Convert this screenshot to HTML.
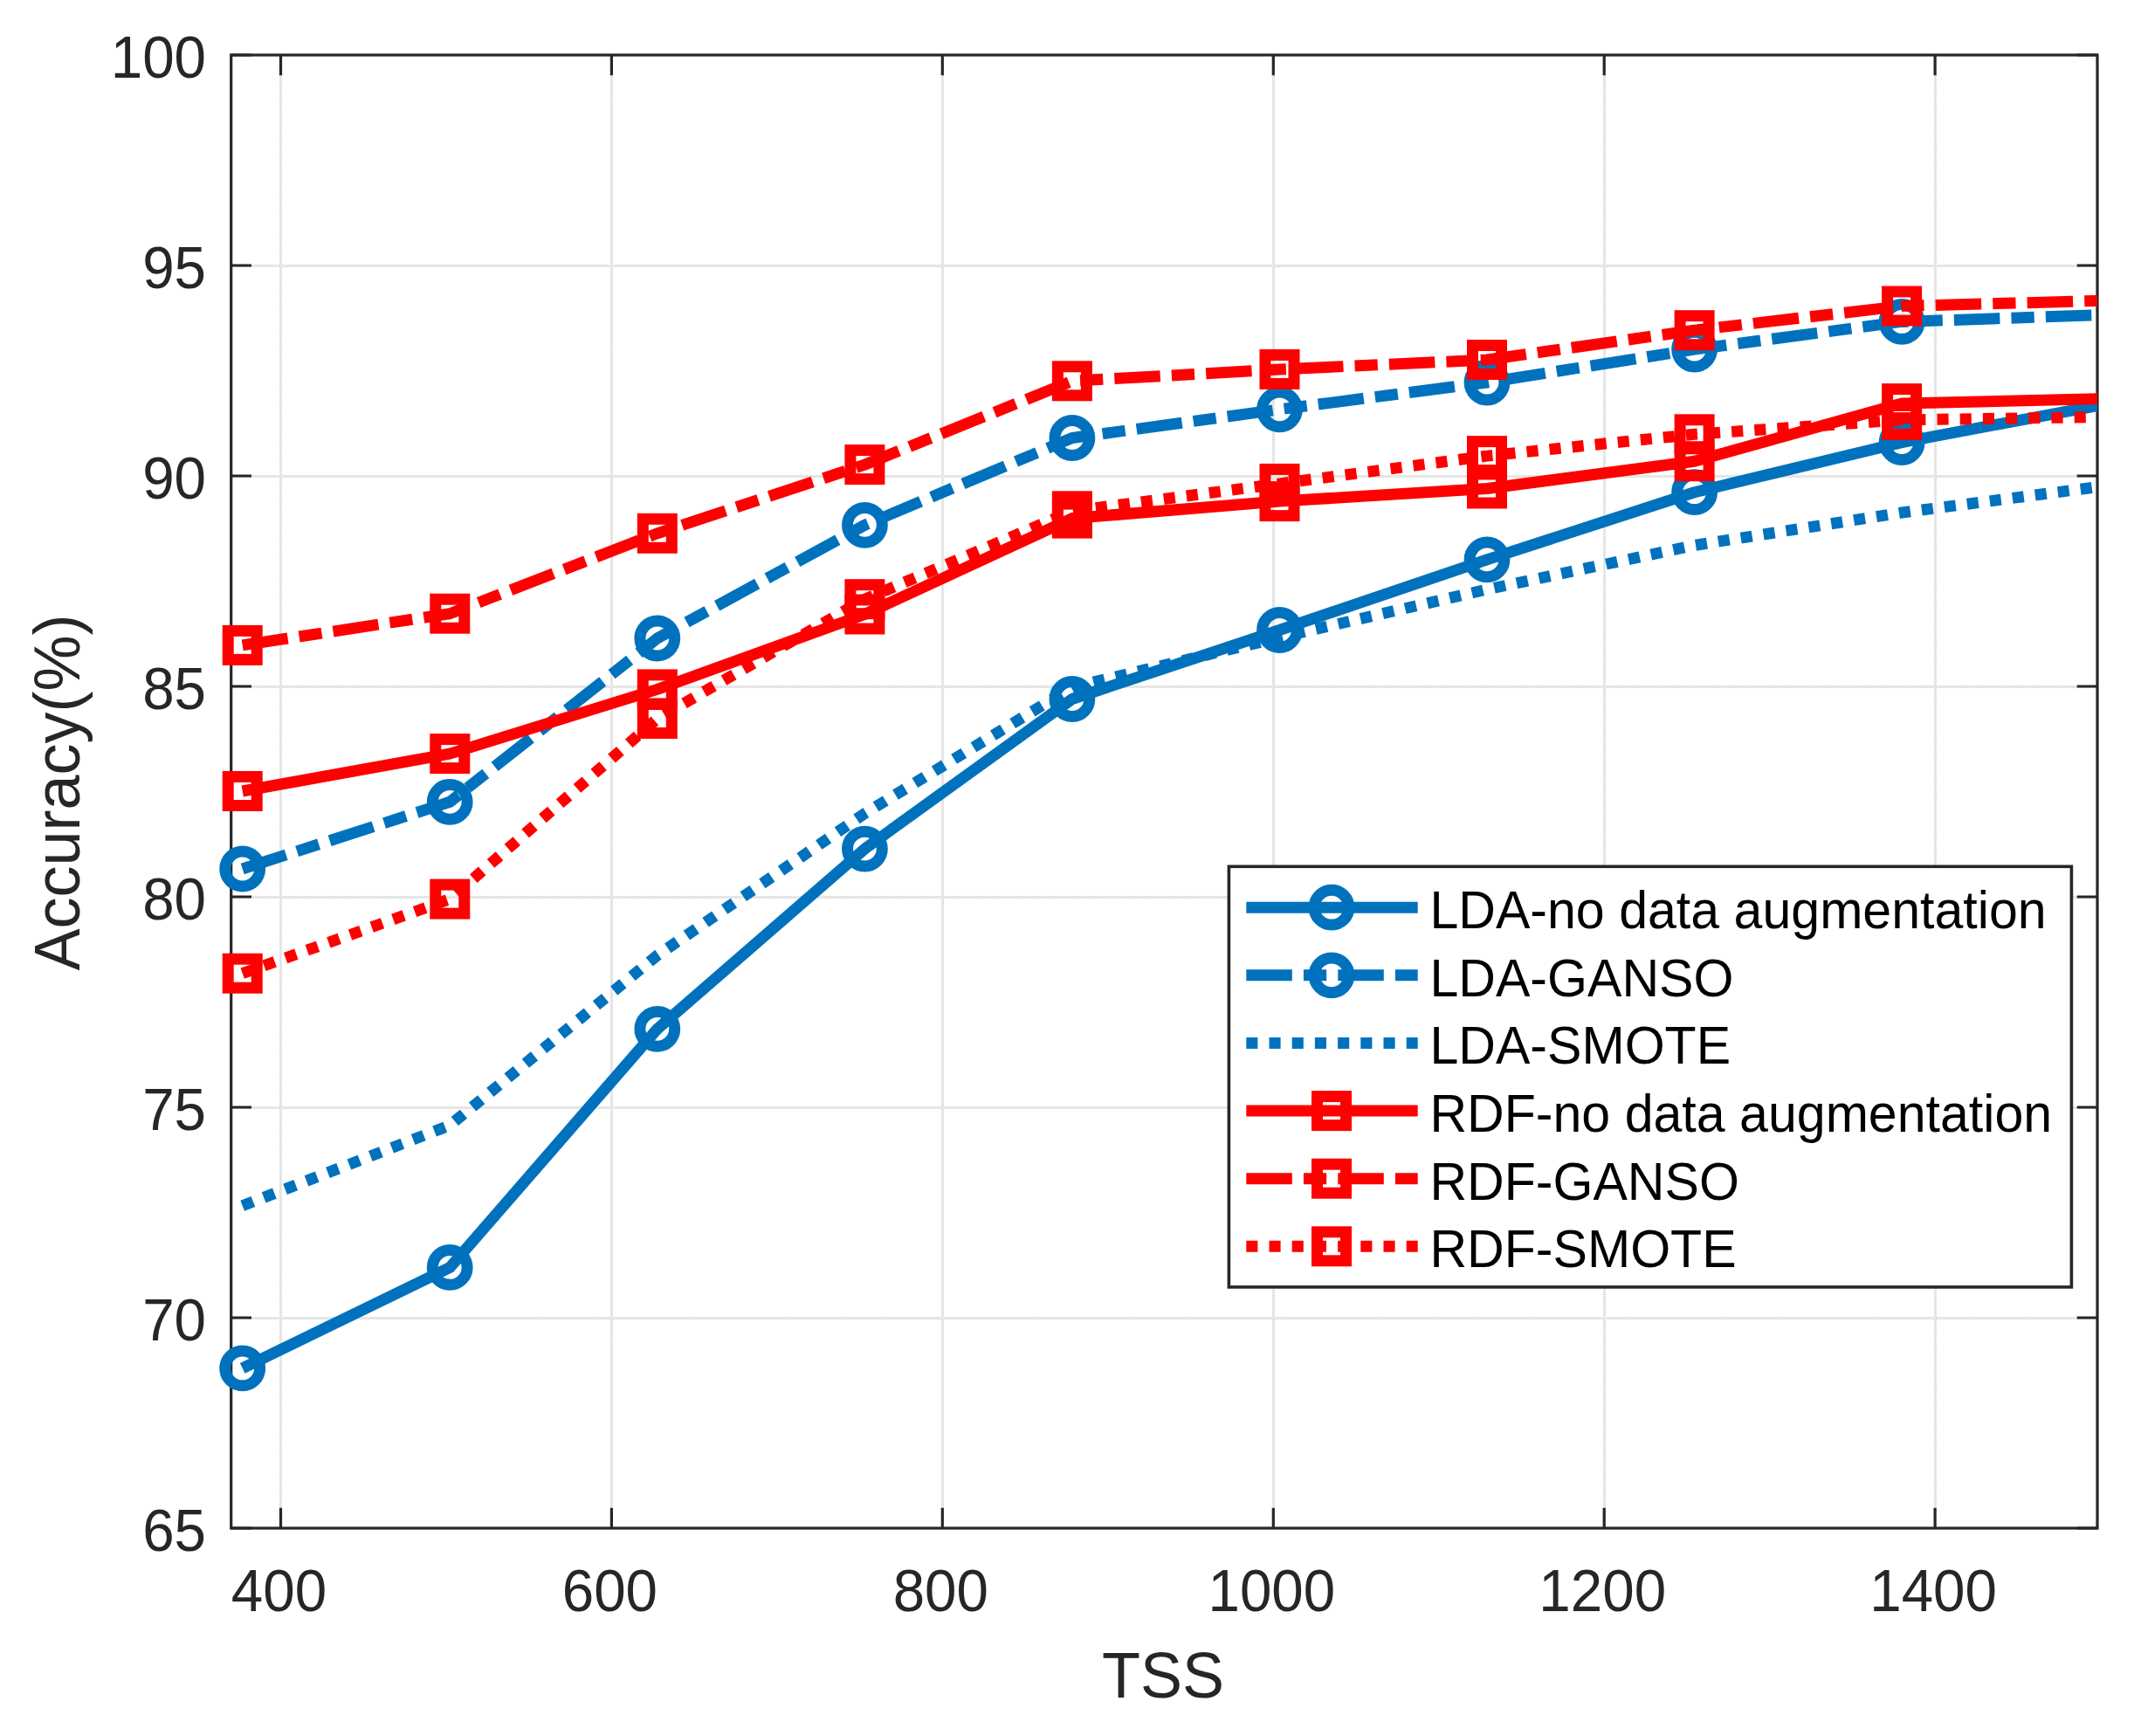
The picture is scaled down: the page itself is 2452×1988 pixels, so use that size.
<!DOCTYPE html>
<html lang="en"><head><meta charset="utf-8"><title>Accuracy vs TSS</title>
<style>html,body{margin:0;padding:0;background:#fff}body{width:2452px;height:1988px;overflow:hidden}svg{display:block}text{font-family:"Liberation Sans",Arial,sans-serif}</style></head><body>
<svg width="2452" height="1988" viewBox="0 0 2452 1988">
<rect width="2452" height="1988" fill="#fff"/>
<defs><clipPath id="ax"><rect x="264.7" y="63.0" width="2137.3" height="1687.0"/></clipPath></defs>
<defs><pattern id="gv" width="2" height="2" patternUnits="userSpaceOnUse"><rect x="0" y="0" width="1" height="1" fill="#cccccc"/><rect x="1" y="1" width="1" height="1" fill="#cccccc"/></pattern><pattern id="gh" width="2" height="2" patternUnits="userSpaceOnUse"><rect x="0" y="0" width="1" height="1" fill="#cecece"/><rect x="1" y="1" width="1" height="1" fill="#cecece"/></pattern></defs>
<rect x="320" y="64" width="3" height="1685" fill="url(#gv)"/><rect x="699" y="64" width="3" height="1685" fill="url(#gv)"/><rect x="1078" y="64" width="3" height="1685" fill="url(#gv)"/><rect x="1457" y="64" width="3" height="1685" fill="url(#gv)"/><rect x="1836" y="64" width="3" height="1685" fill="url(#gv)"/><rect x="2215" y="64" width="3" height="1685" fill="url(#gv)"/><rect x="266" y="1508" width="2135" height="3" fill="url(#gh)"/><rect x="266" y="1267" width="2135" height="3" fill="url(#gh)"/><rect x="266" y="1026" width="2135" height="3" fill="url(#gh)"/><rect x="266" y="785" width="2135" height="3" fill="url(#gh)"/><rect x="266" y="544" width="2135" height="3" fill="url(#gh)"/><rect x="266" y="303" width="2135" height="3" fill="url(#gh)"/>
<path d="M321.5 1750.0v-23.3M321.5 63.0v23.3M700.4 1750.0v-23.3M700.4 63.0v23.3M1079.3 1750.0v-23.3M1079.3 63.0v23.3M1458.3 1750.0v-23.3M1458.3 63.0v23.3M1837.2 1750.0v-23.3M1837.2 63.0v23.3M2216.1 1750.0v-23.3M2216.1 63.0v23.3M264.7 1750.0h23.3M2402.0 1750.0h-23.3M264.7 1509.0h23.3M2402.0 1509.0h-23.3M264.7 1268.0h23.3M2402.0 1268.0h-23.3M264.7 1027.0h23.3M2402.0 1027.0h-23.3M264.7 786.0h23.3M2402.0 786.0h-23.3M264.7 545.0h23.3M2402.0 545.0h-23.3M264.7 304.0h23.3M2402.0 304.0h-23.3M264.7 63.0h23.3M2402.0 63.0h-23.3" stroke="#262626" stroke-width="3.2" fill="none"/>
<rect x="264.7" y="63.0" width="2137.3" height="1687.0" fill="none" stroke="#262626" stroke-width="3.2"/>
<text transform="translate(236.0 1775.5) scale(1 1.040)" font-size="65.5" text-anchor="end" fill="#262626">65</text>
<text transform="translate(236.0 1534.5) scale(1 1.040)" font-size="65.5" text-anchor="end" fill="#262626">70</text>
<text transform="translate(236.0 1293.5) scale(1 1.040)" font-size="65.5" text-anchor="end" fill="#262626">75</text>
<text transform="translate(236.0 1052.5) scale(1 1.040)" font-size="65.5" text-anchor="end" fill="#262626">80</text>
<text transform="translate(236.0 811.5) scale(1 1.040)" font-size="65.5" text-anchor="end" fill="#262626">85</text>
<text transform="translate(236.0 570.5) scale(1 1.040)" font-size="65.5" text-anchor="end" fill="#262626">90</text>
<text transform="translate(236.0 329.5) scale(1 1.040)" font-size="65.5" text-anchor="end" fill="#262626">95</text>
<text transform="translate(236.0 88.5) scale(1 1.040)" font-size="65.5" text-anchor="end" fill="#262626">100</text>
<text transform="translate(319.5 1845.0) scale(1 1.040)" font-size="65.5" text-anchor="middle" fill="#262626">400</text>
<text transform="translate(698.4 1845.0) scale(1 1.040)" font-size="65.5" text-anchor="middle" fill="#262626">600</text>
<text transform="translate(1077.3 1845.0) scale(1 1.040)" font-size="65.5" text-anchor="middle" fill="#262626">800</text>
<text transform="translate(1456.3 1845.0) scale(1 1.040)" font-size="65.5" text-anchor="middle" fill="#262626">1000</text>
<text transform="translate(1835.2 1845.0) scale(1 1.040)" font-size="65.5" text-anchor="middle" fill="#262626">1200</text>
<text transform="translate(2214.1 1845.0) scale(1 1.040)" font-size="65.5" text-anchor="middle" fill="#262626">1400</text>
<text transform="translate(1332.0 1944.0) scale(1 1.040)" font-size="72" text-anchor="middle" fill="#262626">TSS</text>
<text transform="translate(91.0 907.5) rotate(-90) scale(1 1.020)" font-size="72" text-anchor="middle" fill="#262626">Accuracy(%)</text>
<g stroke="#0072BD" stroke-width="13.0" fill="none">
<polyline clip-path="url(#ax)" stroke-linejoin="round" points="277.7,1566.9 515.2,1451.4 752.8,1178.3 990.4,972.1 1227.9,800.5 1465.5,721.5 1703.0,640.8 1940.6,563.7 2178.1,506.6 2415.7,462.0"/>
<circle cx="277.7" cy="1566.9" r="19.9"/><circle cx="515.2" cy="1451.4" r="19.9"/><circle cx="752.8" cy="1178.3" r="19.9"/><circle cx="990.4" cy="972.1" r="19.9"/><circle cx="1227.9" cy="800.5" r="19.9"/><circle cx="1465.5" cy="721.5" r="19.9"/><circle cx="1703.0" cy="640.8" r="19.9"/><circle cx="1940.6" cy="563.7" r="19.9"/><circle cx="2178.1" cy="506.6" r="19.9"/>
</g>
<g stroke="#0072BD" stroke-width="13.0" fill="none">
<polyline clip-path="url(#ax)" stroke-linejoin="round" points="277.7,995.0 515.2,918.3 752.8,731.0 990.4,601.3 1227.9,501.5 1465.5,468.8 1703.0,438.0 1940.6,400.1 2178.1,368.4 2415.7,360.4" stroke-dasharray="52.5 13.12 26.25 13.12"/>
<circle cx="277.7" cy="995.0" r="19.9"/><circle cx="515.2" cy="918.3" r="19.9"/><circle cx="752.8" cy="731.0" r="19.9"/><circle cx="990.4" cy="601.3" r="19.9"/><circle cx="1227.9" cy="501.5" r="19.9"/><circle cx="1465.5" cy="468.8" r="19.9"/><circle cx="1703.0" cy="438.0" r="19.9"/><circle cx="1940.6" cy="400.1" r="19.9"/><circle cx="2178.1" cy="368.4" r="19.9"/>
</g>
<g stroke="#0072BD" stroke-width="13.0" fill="none">
<polyline clip-path="url(#ax)" stroke-linejoin="round" points="277.7,1380.8 515.2,1288.7 752.8,1094.0 990.4,931.5 1227.9,787.0 1465.5,730.0 1703.0,675.0 1940.6,624.5 2178.1,587.0 2415.7,555.9" stroke-dasharray="13.1 13.1"/>
</g>
<g stroke="#FF0000" stroke-width="13.0" fill="none">
<polyline clip-path="url(#ax)" stroke-linejoin="round" points="277.7,906.0 515.2,863.1 752.8,789.4 990.4,703.5 1227.9,593.6 1465.5,574.1 1703.0,559.5 1940.6,528.2 2178.1,462.1 2415.7,456.5"/>
<rect x="261.2" y="889.5" width="33.0" height="33.0"/><rect x="498.8" y="846.6" width="33.0" height="33.0"/><rect x="736.3" y="772.9" width="33.0" height="33.0"/><rect x="973.9" y="687.0" width="33.0" height="33.0"/><rect x="1211.4" y="577.1" width="33.0" height="33.0"/><rect x="1449.0" y="557.6" width="33.0" height="33.0"/><rect x="1686.5" y="543.0" width="33.0" height="33.0"/><rect x="1924.1" y="511.7" width="33.0" height="33.0"/><rect x="2161.6" y="445.6" width="33.0" height="33.0"/>
</g>
<g stroke="#FF0000" stroke-width="13.0" fill="none">
<polyline clip-path="url(#ax)" stroke-linejoin="round" points="277.7,738.9 515.2,702.7 752.8,610.8 990.4,532.1 1227.9,436.3 1465.5,423.0 1703.0,412.0 1940.6,378.2 2178.1,350.5 2415.7,344.1" stroke-dasharray="52.5 13.12 26.25 13.12"/>
<rect x="261.2" y="722.4" width="33.0" height="33.0"/><rect x="498.8" y="686.2" width="33.0" height="33.0"/><rect x="736.3" y="594.3" width="33.0" height="33.0"/><rect x="973.9" y="515.6" width="33.0" height="33.0"/><rect x="1211.4" y="419.8" width="33.0" height="33.0"/><rect x="1449.0" y="406.5" width="33.0" height="33.0"/><rect x="1686.5" y="395.5" width="33.0" height="33.0"/><rect x="1924.1" y="361.7" width="33.0" height="33.0"/><rect x="2161.6" y="334.0" width="33.0" height="33.0"/>
</g>
<g stroke="#FF0000" stroke-width="13.0" fill="none">
<polyline clip-path="url(#ax)" stroke-linejoin="round" points="277.7,1114.7 515.2,1029.6 752.8,823.0 990.4,686.2 1227.9,585.3 1465.5,553.9 1703.0,522.1 1940.6,497.3 2178.1,480.9 2415.7,477.4" stroke-dasharray="13.1 13.1"/>
<rect x="261.2" y="1098.2" width="33.0" height="33.0"/><rect x="498.8" y="1013.1" width="33.0" height="33.0"/><rect x="736.3" y="806.5" width="33.0" height="33.0"/><rect x="973.9" y="669.7" width="33.0" height="33.0"/><rect x="1211.4" y="568.8" width="33.0" height="33.0"/><rect x="1449.0" y="537.4" width="33.0" height="33.0"/><rect x="1686.5" y="505.6" width="33.0" height="33.0"/><rect x="1924.1" y="480.8" width="33.0" height="33.0"/><rect x="2161.6" y="464.4" width="33.0" height="33.0"/>
</g>
<rect x="1407.4" y="992.3" width="965.0" height="481.6" fill="#fff" stroke="#262626" stroke-width="3.6"/>
<g stroke="#0072BD" stroke-width="13.0" fill="none">
<line x1="1427.3" y1="1039.2" x2="1623.7" y2="1039.2"/>
<circle cx="1525.0" cy="1039.2" r="19.9"/>
</g>
<text transform="translate(1637.4 1063.2) scale(1 1.025)" font-size="59.1" text-anchor="start" fill="#000">LDA-no data augmentation</text>
<g stroke="#0072BD" stroke-width="13.0" fill="none">
<line x1="1427.3" y1="1116.8" x2="1623.7" y2="1116.8" stroke-dasharray="52.5 13.12 26.25 13.12"/>
<circle cx="1525.0" cy="1116.8" r="19.9"/>
</g>
<text transform="translate(1637.4 1140.8) scale(1 1.025)" font-size="59.1" text-anchor="start" fill="#000">LDA-GANSO</text>
<g stroke="#0072BD" stroke-width="13.0" fill="none">
<line x1="1427.3" y1="1194.4" x2="1623.7" y2="1194.4" stroke-dasharray="13.1 13.1"/>
</g>
<text transform="translate(1637.4 1218.4) scale(1 1.025)" font-size="59.1" text-anchor="start" fill="#000">LDA-SMOTE</text>
<g stroke="#FF0000" stroke-width="13.0" fill="none">
<line x1="1427.3" y1="1272.1" x2="1623.7" y2="1272.1"/>
<rect x="1508.5" y="1255.6" width="33.0" height="33.0"/>
</g>
<text transform="translate(1637.4 1296.1) scale(1 1.025)" font-size="59.1" text-anchor="start" fill="#000">RDF-no data augmentation</text>
<g stroke="#FF0000" stroke-width="13.0" fill="none">
<line x1="1427.3" y1="1349.7" x2="1623.7" y2="1349.7" stroke-dasharray="52.5 13.12 26.25 13.12"/>
<rect x="1508.5" y="1333.2" width="33.0" height="33.0"/>
</g>
<text transform="translate(1637.4 1373.7) scale(1 1.025)" font-size="59.1" text-anchor="start" fill="#000">RDF-GANSO</text>
<g stroke="#FF0000" stroke-width="13.0" fill="none">
<line x1="1427.3" y1="1427.3" x2="1623.7" y2="1427.3" stroke-dasharray="13.1 13.1"/>
<rect x="1508.5" y="1410.8" width="33.0" height="33.0"/>
</g>
<text transform="translate(1637.4 1451.3) scale(1 1.025)" font-size="59.1" text-anchor="start" fill="#000">RDF-SMOTE</text>
</svg></body></html>
